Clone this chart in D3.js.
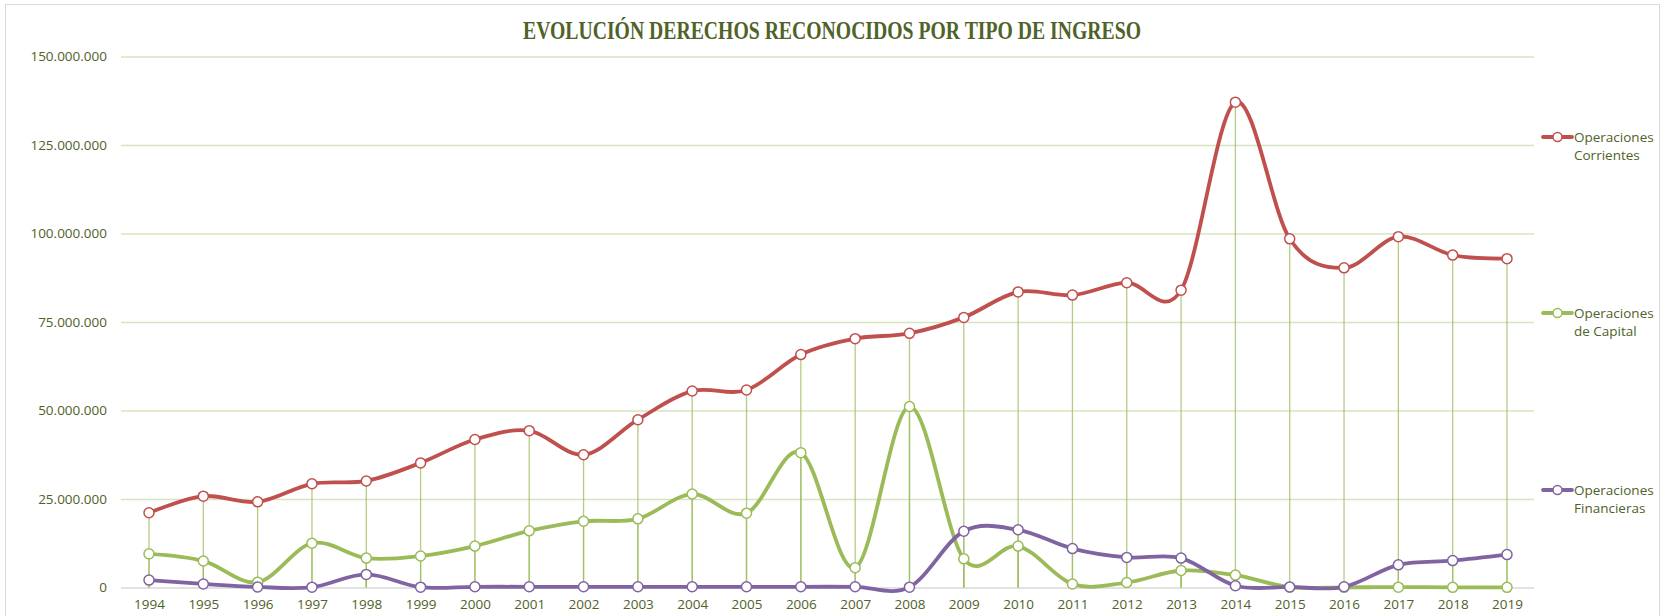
<!DOCTYPE html>
<html>
<head>
<meta charset="utf-8">
<script src="https://cdn.jsdelivr.net/npm/d3@7"></script>
<style>
  body { margin: 0; background: #fff; }
  svg { display: block; }
</style>
</head>
<body>
<div class="chart"></div>
<script>
const years = ["1994","1995","1996","1997","1998","1999","2000","2001","2002","2003","2004","2005","2006",
               "2007","2008","2009","2010","2011","2012","2013","2014","2015","2016","2017","2018","2019"];

const corrientes = [21.1, 25.8, 24.2, 29.3, 30.1, 35.2, 41.8, 44.3, 37.5, 47.4, 55.5, 55.8, 65.8,
                    70.3, 71.8, 76.3, 83.5, 82.6, 86.1, 84.0, 137.1, 98.5, 90.3, 99.1, 93.9, 92.9];

const capital = [9.5, 7.5, 1.5, 12.5, 8.3, 8.9, 11.7, 16.0, 18.7, 19.4, 26.4, 21.0, 38.1,
                 5.6, 51.1, 8.1, 11.7, 1.0, 1.4, 4.8, 3.5, 0.1, 0.05, 0.1, 0.05, 0.05];

const financieras = [2.1, 1.0, 0.15, 0.1, 3.7, 0.1, 0.2, 0.2, 0.2, 0.2, 0.2, 0.2, 0.2,
                     0.2, 0.1, 15.9, 16.3, 11.0, 8.5, 8.3, 0.5, 0.15, 0.2, 6.4, 7.6, 9.3];

const yTicks = [0, 25, 50, 75, 100, 125, 150];

const seriesNames = [["Operaciones", "Corrientes"], ["Operaciones", "de Capital"], ["Operaciones", "Financieras"]];

const series = [
  { name: seriesNames[0], values: corrientes, color: "#c0504d", legendY: 137 },
  { name: seriesNames[1], values: capital, color: "#9bbb59", legendY: 313 },
  { name: seriesNames[2], values: financieras, color: "#8064a2", legendY: 490 }
];

const width = 1670;
const height = 616;
const textColor = "#4f6228";
const font = "'Open Sans', sans-serif";
const gridLeft = 121;
const gridRight = 1534;

const svg = d3.select(".chart")
              .append("svg")
              .attr("width", width)
              .attr("height", height);

// chart border
svg.append("rect")
   .attr("x", 5.5)
   .attr("y", 4.5)
   .attr("width", 1654)
   .attr("height", 620)
   .attr("fill", "none")
   .attr("stroke", "#d9d9d9");

const xScale = d3.scalePoint()
                 .domain(years)
                 .range([149, 1507]);

const yScale = d3.scaleLinear()
                 .domain([0, 150])
                 .range([587.5, 56.5]);

const fmt = v => d3.format(",")(v * 1000000).replace(/,/g, ".");

// gridlines + y labels
const yAxis = d3.axisLeft(yScale)
                .tickValues(yTicks)
                .tickSize(-(gridRight - gridLeft))
                .tickFormat(fmt);

const gy = svg.append("g")
              .attr("transform", "translate(" + gridLeft + ",0)")
              .call(yAxis);

gy.select(".domain").remove();
gy.selectAll(".tick line")
  .attr("stroke", d => d === 0 ? "#d9d9d9" : "#d7e4bd")
  .attr("stroke-width", 1.3);
gy.selectAll(".tick text")
  .attr("x", -14)
  .attr("fill", textColor)
  .style("font-family", font)
  .style("font-size", "13.5px");

// x labels
const xAxis = d3.axisBottom(xScale).tickSize(0).tickPadding(12);
const gx = svg.append("g")
              .attr("transform", "translate(0,587.5)")
              .call(xAxis);
gx.select(".domain").remove();
gx.selectAll(".tick text")
  .attr("fill", textColor)
  .style("font-family", font)
  .style("font-size", "13.5px");

// drop lines
series.forEach(s => {
  svg.append("g")
     .selectAll("line")
     .data(s.values)
     .enter()
     .append("line")
     .attr("x1", (d, i) => xScale(years[i]))
     .attr("x2", (d, i) => xScale(years[i]))
     .attr("y1", d => yScale(d))
     .attr("y2", yScale(0))
     .attr("stroke", "#9bbb59")
     .attr("stroke-opacity", 0.75)
     .attr("stroke-width", 1.3);
});

const line = d3.line()
               .x((d, i) => xScale(years[i]))
               .y(d => yScale(d))
               .curve(d3.curveCardinal.tension(0));

series.forEach(s => {
  svg.append("path")
     .datum(s.values)
     .attr("d", line)
     .attr("fill", "none")
     .attr("stroke", s.color)
     .attr("stroke-width", 3.8)
     .attr("stroke-linejoin", "round");

  svg.append("g")
     .selectAll("circle")
     .data(s.values)
     .enter()
     .append("circle")
     .attr("cx", (d, i) => xScale(years[i]))
     .attr("cy", d => yScale(d))
     .attr("r", 5)
     .attr("fill", "#fff")
     .attr("stroke", s.color)
     .attr("stroke-width", 1.5);
});

// legend
series.forEach(s => {
  const g = svg.append("g").attr("transform", "translate(1543," + s.legendY + ")");
  g.append("line")
   .attr("x1", 0).attr("x2", 29)
   .attr("stroke", s.color)
   .attr("stroke-width", 3.8)
   .attr("stroke-linecap", "round");
  g.append("circle")
   .attr("cx", 14.5)
   .attr("r", 4.5)
   .attr("fill", "#fff")
   .attr("stroke", s.color)
   .attr("stroke-width", 1.5);
  g.selectAll("text")
   .data(s.name)
   .enter()
   .append("text")
   .attr("x", 31)
   .attr("y", (d, i) => i * 18.5)
   .attr("dy", "0.35em")
   .attr("fill", textColor)
   .style("font-family", font)
   .style("font-size", "13.5px")
   .text(d => d);
});

// title
svg.append("text")
   .attr("x", 832)
   .attr("y", 30)
   .attr("dy", "0.35em")
   .attr("text-anchor", "middle")
   .attr("fill", textColor)
   .attr("textLength", 618)
   .attr("lengthAdjust", "spacingAndGlyphs")
   .style("font-family", "'Liberation Serif', serif")
   .style("font-weight", "bold")
   .style("font-size", "25px")
   .text("EVOLUCIÓN DERECHOS RECONOCIDOS POR TIPO DE INGRESO");
</script>
</body>
</html>
